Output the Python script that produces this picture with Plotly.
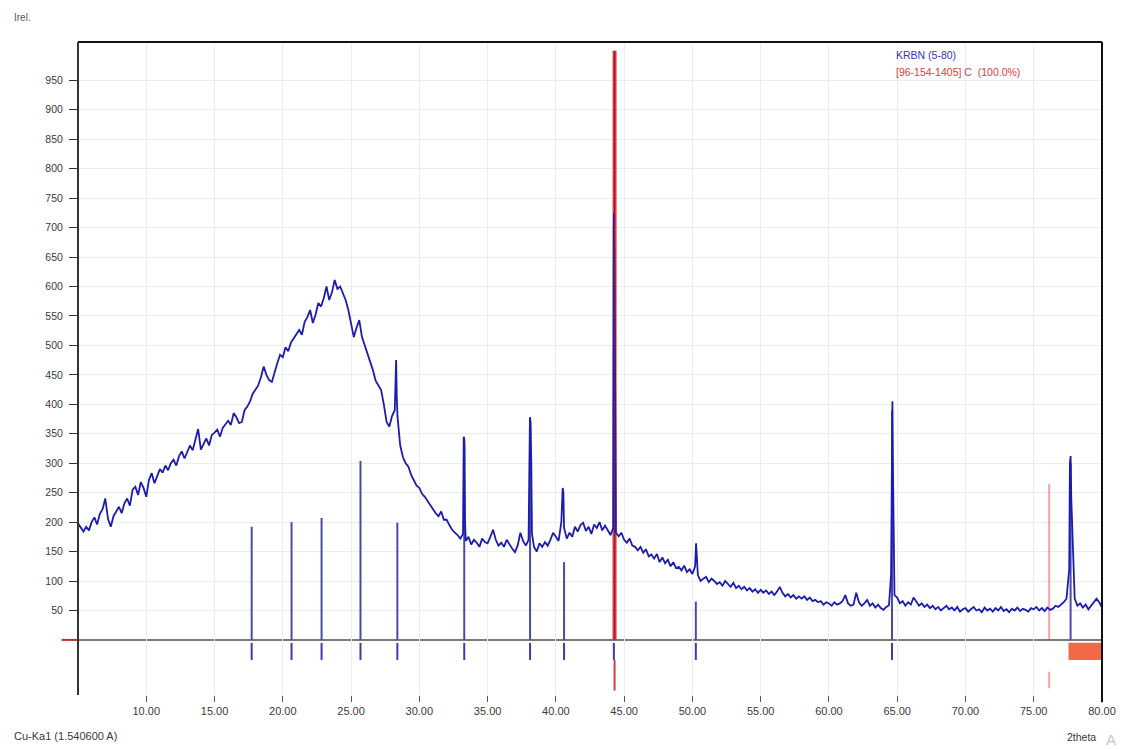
import plotly.graph_objects as go

# ---- measured scan (counts on a 0.2 deg grid, 5.0 .. 80.0 deg 2theta) ----
scan_start = 5.0
scan_step = 0.2
counts = [
    198, 190, 184, 192, 186,   # 5
    200, 208, 196, 214, 222,   # 6
    240, 205, 192, 210, 218,   # 7
    226, 215, 232, 240, 228,   # 8
    255, 260, 246, 268, 258,   # 9
    243, 272, 283, 266, 278,   # 10
    290, 284, 296, 288, 300,   # 11
    306, 296, 312, 320, 308,   # 12
    318, 330, 322, 340, 358,   # 13
    323, 334, 342, 330, 348,   # 14
    352, 357, 345, 360, 366,   # 15
    372, 365, 385, 378, 368,   # 16
    370, 390, 396, 405, 418,   # 17
    424, 432, 446, 464, 450,   # 18
    441, 438, 456, 470, 484,   # 19
    480, 497, 490, 505, 512,   # 20
    520, 526, 518, 540, 548,   # 21
    560, 538, 552, 572, 566,   # 22
    580, 600, 577, 590, 611,   # 23
    596, 600, 588, 577, 560,   # 24
    535, 514, 530, 543, 514,   # 25
    500, 488, 470, 458, 440,   # 26
    432, 424, 400, 370, 362,   # 27
    380, 390, 379, 330, 310,   # 28
    300, 294, 280, 270, 262,   # 29
    258, 248, 243, 236, 228,   # 30
    222, 215, 210, 218, 204,   # 31
    204, 195, 187, 182, 178,   # 32
    172, 180, 168, 175, 162,   # 33
    170, 165, 158, 172, 166,   # 34
    164, 175, 187, 170, 160,   # 35
    165, 158, 170, 162, 155,   # 36
    149, 160, 182, 168, 160,   # 37
    170, 300, 158, 150, 164,   # 38
    158, 166, 160, 170, 182,   # 39
    175, 168, 200, 190, 172,   # 40
    182, 175, 192, 184, 195,   # 41
    199, 185, 192, 180, 196,   # 42
    190, 200, 186, 194, 187,   # 43
    178, 190, 182, 176, 182,   # 44
    170, 165, 172, 160, 158,   # 45
    152, 158, 148, 154, 142,   # 46
    145, 138, 146, 132, 140,   # 47
    130, 136, 125, 132, 122,   # 48
    124, 118, 126, 115, 120,   # 49
    112, 125, 110, 100, 104,   # 50
    107, 98, 104, 100, 95,     # 51
    98, 92, 100, 94, 90,       # 52
    97, 88, 92, 86, 90,        # 53
    84, 88, 82, 86, 80,        # 54
    85, 80, 84, 78, 82,        # 55
    76, 82, 90, 80, 74,        # 56
    78, 72, 76, 70, 74,        # 57
    70, 74, 68, 72, 66,        # 58
    68, 64, 66, 60, 64,        # 59
    62, 58, 64, 60, 62,        # 60
    66, 76, 62, 58, 60,        # 61
    80, 64, 58, 62, 68,        # 62
    58, 62, 55, 60, 54,        # 63
    51, 56, 59, 400, 76,       # 64
    72, 62, 66, 58, 64,        # 65
    60, 72, 66, 58, 62,        # 66
    56, 60, 54, 58, 52,        # 67
    56, 50, 54, 58, 52,        # 68
    55, 50, 56, 48, 52,        # 69
    54, 48, 52, 56, 50,        # 70
    52, 47, 55, 50, 53,        # 71
    48, 54, 50, 56, 49,        # 72
    52, 47, 53, 50, 55,        # 73
    49, 53, 51, 48, 54,        # 74
    52, 56, 50, 54, 49,        # 75
    55, 51, 53, 58, 56,        # 76
    60, 64, 70, 120, 200,      # 77
    70, 58, 62, 55, 60,        # 78
    52, 58, 62, 70, 64,        # 79
    55,                        # 80
]

# finer points recorded across the sharp reflections
peak_theta = [28.30, 28.35, 33.25, 33.30, 33.35, 38.10, 38.15, 38.25,
              40.50, 40.55, 44.22, 44.25, 44.30, 44.33, 44.37, 50.27,
              64.55, 64.65, 64.70, 64.75, 77.65, 77.70, 77.75, 77.85, 77.90]
peak_counts = [475, 410, 345, 340, 200, 378, 370, 180,
               258, 250, 490, 725, 610, 330, 200, 164,
               110, 405, 270, 140, 300, 312, 240, 180, 120]

# peak list of the scan (blue sticks)
scan_peak_pos = [17.72, 20.64, 22.84, 25.69, 28.39, 33.29, 38.11, 40.60,
                 44.25, 50.25, 64.62, 77.70]
scan_peak_int = [192, 200, 207, 304, 199, 330, 360, 132,
                 700, 65, 390, 300]

# reference pattern [96-154-1405] C (red sticks)
ref_pos = [44.30, 76.13]
ref_int = [1000, 265]
ref_alpha = [1.0, 0.45]

# marker rows below the baseline
scan_marker_row = [-5, -34]
ref_marker_rows = [[-34, -86], [-54, -82]]
overflow_band = [77.55, 80.0]

x_ticks = [10, 15, 20, 25, 30, 35, 40, 45, 50, 55, 60, 65, 70, 75, 80]
y_ticks = [50, 100, 150, 200, 250, 300, 350, 400, 450, 500,
           550, 600, 650, 700, 750, 800, 850, 900, 950]

# ---- assemble the full profile ----
grid_theta = [round(scan_start + scan_step * i, 2) for i in range(len(counts))]
profile = sorted(zip(grid_theta + peak_theta, counts + peak_counts))
prof_x = [p[0] for p in profile]
prof_y = [p[1] for p in profile]

FONT = "Liberation Sans, Arial, sans-serif"
TXT = "#3a3a3a"
BLUE_LINE = "#1c1cae"
STICK = "#4a4aa8"

fig = go.Figure()

# blue sticks above the baseline
sx, sy = [], []
for p, h in zip(scan_peak_pos, scan_peak_int):
    sx += [p, p, None]
    sy += [0, h, None]
fig.add_trace(go.Scatter(x=sx, y=sy, mode="lines",
                         line=dict(color=STICK, width=2), hoverinfo="skip"))

# blue markers below the baseline
mx, my = [], []
for p in scan_peak_pos:
    mx += [p, p, None]
    my += [scan_marker_row[0], scan_marker_row[1], None]
fig.add_trace(go.Scatter(x=mx, y=my, mode="lines",
                         line=dict(color="#3b3bb0", width=2), hoverinfo="skip"))

# reference sticks and their markers
for p, h, a, row in zip(ref_pos, ref_int, ref_alpha, ref_marker_rows):
    col = f"rgba(220,60,60,{a})"
    fig.add_trace(go.Scatter(x=[p, p], y=[0, h], mode="lines",
                             line=dict(color=col, width=4 if a == 1.0 else 2),
                             hoverinfo="skip"))
    fig.add_trace(go.Scatter(x=[p, p], y=row, mode="lines",
                             line=dict(color=col, width=2), hoverinfo="skip"))

# measured profile
fig.add_trace(go.Scatter(x=prof_x, y=prof_y, mode="lines",
                         line=dict(color=BLUE_LINE, width=1.8),
                         hoverinfo="skip"))

# thin dark core along the strongest reference line
fig.add_trace(go.Scatter(x=[ref_pos[0], ref_pos[0]], y=[0, ref_int[0]],
                         mode="lines", line=dict(color="#8a1c3c", width=1),
                         hoverinfo="skip"))

shapes = [
    # zero line
    dict(type="line", xref="x", yref="y", x0=scan_start, x1=80, y0=0, y1=0,
         line=dict(color="#7a7a7a", width=2), layer="below"),
    # red stub left of the axis at zero
    dict(type="line", xref="paper", yref="y", x0=-0.016, x1=0, y0=0, y1=0,
         line=dict(color="#c0302a", width=2)),
    # overflow band of markers at the high-angle end
    dict(type="rect", xref="x", yref="y", x0=overflow_band[0], x1=overflow_band[1],
         y0=scan_marker_row[0], y1=scan_marker_row[1],
         fillcolor="#f2694a", line=dict(width=0)),
    # frame: top, left, right
    dict(type="line", xref="paper", yref="paper", x0=0, x1=1, y0=1, y1=1,
         line=dict(color="#111111", width=2)),
    dict(type="line", xref="paper", yref="paper", x0=0, x1=0, y0=0, y1=1,
         line=dict(color="#333333", width=2)),
    dict(type="line", xref="paper", yref="paper", x0=1, x1=1, y0=-0.011, y1=1,
         line=dict(color="#111111", width=2)),
]

annotations = [
    dict(text="Irel.", xref="paper", yref="paper", x=-0.064, y=1.038,
         xanchor="left", yanchor="middle", showarrow=False,
         font=dict(family=FONT, size=10, color="#555555")),
    dict(text="KRBN (5-80)", xref="paper", yref="paper", x=0.797, y=0.980,
         xanchor="left", yanchor="middle", showarrow=False,
         font=dict(family=FONT, size=10.5, color="#3434c8")),
    dict(text="[96-154-1405] C  (100.0%)", xref="paper", yref="paper",
         x=0.797, y=0.954, xanchor="left", yanchor="middle", showarrow=False,
         font=dict(family=FONT, size=10.5, color="#e03a3a")),
    dict(text="Cu-Ka1 (1.540600 A)", xref="paper", yref="paper", x=-0.064,
         y=-0.063, xanchor="left", yanchor="middle", showarrow=False,
         font=dict(family=FONT, size=11, color=TXT)),
    dict(text="2theta", xref="paper", yref="paper", x=0.996, y=-0.064,
         xanchor="right", yanchor="middle", showarrow=False,
         font=dict(family=FONT, size=10.5, color=TXT)),
    dict(text="A", xref="paper", yref="paper", x=1.002, y=-0.068,
         xanchor="left", yanchor="middle", showarrow=False,
         font=dict(family=FONT, size=15, color="#c8c8c8")),
]

fig.update_layout(
    width=1128, height=749,
    margin=dict(l=78, r=23, t=42, b=54),
    paper_bgcolor="white", plot_bgcolor="white",
    showlegend=False,
    shapes=shapes,
    annotations=annotations,
    font=dict(family=FONT, size=11, color=TXT),
)

fig.update_xaxes(
    range=[scan_start, 80], tickvals=x_ticks,
    ticktext=[f"{v:.2f}" for v in x_ticks],
    ticks="outside", ticklen=6, tickwidth=1, tickcolor="#555555",
    showgrid=True, gridcolor="#ececec", gridwidth=1,
    showline=False, zeroline=False,
    tickfont=dict(family=FONT, size=11, color=TXT),
)
fig.update_yaxes(
    range=[-93.5, 1015], tickvals=y_ticks,
    ticktext=[str(v) for v in y_ticks],
    ticks="outside", ticklen=8, tickwidth=1, tickcolor="#333333",
    showgrid=True, gridcolor="#ececec", gridwidth=1,
    showline=False, zeroline=False, ticklabelstandoff=4,
    tickfont=dict(family=FONT, size=10.5, color=TXT),
)

fig.write_html("out.html")
